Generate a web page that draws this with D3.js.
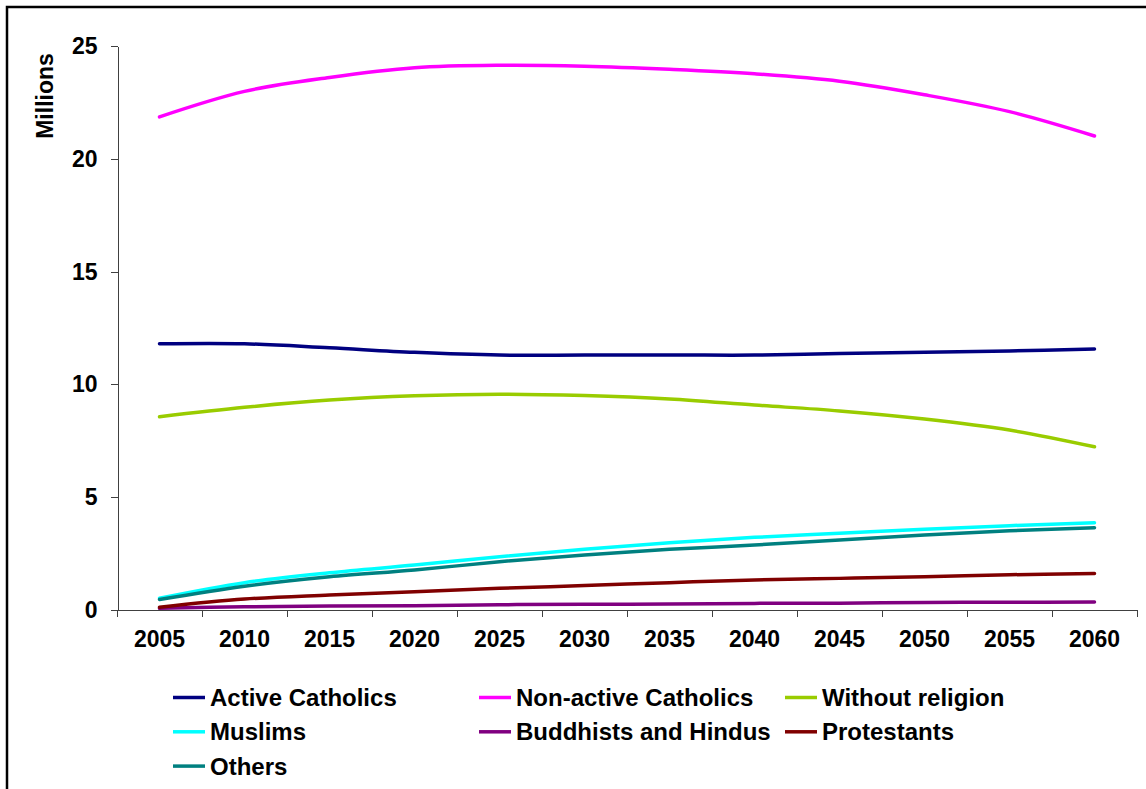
<!DOCTYPE html>
<html>
<head>
<meta charset="utf-8">
<script src="https://cdn.jsdelivr.net/npm/d3@7"></script>
<style>
  body { margin: 0; background: #fff; }
  text { font-family: "Liberation Sans", Arial, sans-serif; font-weight: bold; fill: #000; }
</style>
</head>
<body>
<div id="chart"></div>
<script>
// values in millions
const years = ["2005", "2010", "2015", "2020", "2025", "2030", "2035", "2040", "2045", "2050", "2055", "2060"];
const activeCatholics    = [11.80, 11.80, 11.62, 11.42, 11.30, 11.30, 11.30, 11.30, 11.37, 11.42, 11.48, 11.57];
const nonActiveCatholics = [21.87, 23.00, 23.62, 24.05, 24.16, 24.12, 23.98, 23.78, 23.45, 22.85, 22.10, 21.02];
const withoutReligion    = [8.56, 8.98, 9.30, 9.49, 9.56, 9.50, 9.35, 9.08, 8.82, 8.46, 7.97, 7.23];
const muslims            = [0.51, 1.20, 1.64, 1.98, 2.35, 2.68, 2.97, 3.21, 3.39, 3.57, 3.73, 3.86];
const buddhistsHindus    = [0.06, 0.13, 0.16, 0.18, 0.22, 0.24, 0.25, 0.28, 0.29, 0.32, 0.33, 0.34];
const protestants        = [0.11, 0.47, 0.65, 0.80, 0.95, 1.07, 1.20, 1.32, 1.39, 1.46, 1.55, 1.61];
const others             = [0.45, 1.04, 1.46, 1.76, 2.13, 2.43, 2.68, 2.87, 3.09, 3.31, 3.50, 3.64];
const yTicks = [0, 5, 10, 15, 20, 25];

const series = [
  {name: "Active Catholics", values: activeCatholics, color: "#000080"},
  {name: "Non-active Catholics", values: nonActiveCatholics, color: "#FF00FF"},
  {name: "Without religion", values: withoutReligion, color: "#99CC00"},
  {name: "Muslims", values: muslims, color: "#00FFFF"},
  {name: "Buddhists and Hindus", values: buddhistsHindus, color: "#800080"},
  {name: "Protestants", values: protestants, color: "#800000"},
  {name: "Others", values: others, color: "#008080"}
];

const width = 1146, height = 789;
const plot = {left: 117, right: 1137, top: 46.3, bottom: 609.7};

const svg = d3.select("#chart").append("svg")
  .attr("width", width)
  .attr("height", height);

// outer frame (only top and left edges are inside the picture)
svg.append("rect")
  .attr("x", 7).attr("y", 7)
  .attr("width", width + 20).attr("height", height + 20)
  .attr("fill", "none")
  .attr("stroke", "#000")
  .attr("stroke-width", 2.5);

const x = d3.scaleBand().domain(years).range([plot.left, plot.right]);
const y = d3.scaleLinear().domain([0, 25]).range([plot.bottom, plot.top]);

// y axis
const yAxis = svg.append("g")
  .attr("transform", "translate(" + (plot.left + 0.5) + ",0)")
  .call(d3.axisLeft(y).tickValues(yTicks).tickSize(7).tickPadding(13).tickSizeOuter(0));
yAxis.selectAll("text").style("font-size", "23px");

// x axis: labels at category centres, ticks on the category boundaries
const xAxis = svg.append("g")
  .attr("transform", "translate(0," + (plot.bottom + 0.5) + ")")
  .call(d3.axisBottom(x).tickSize(0).tickPadding(20).tickSizeOuter(0));
xAxis.selectAll("text").style("font-size", "23px");

const bounds = years.map(d => x(d)).concat([plot.right]);
xAxis.selectAll(".bound")
  .data(bounds)
  .enter()
  .append("line")
  .attr("class", "bound")
  .attr("x1", d => Math.round(d) + 0.5)
  .attr("x2", d => Math.round(d) + 0.5)
  .attr("y1", 0)
  .attr("y2", 7);

svg.selectAll(".domain, .tick line, .bound")
  .attr("stroke", "#404040")
  .attr("stroke-width", 1)
  .attr("shape-rendering", "crispEdges");

// y title
svg.append("text")
  .attr("transform", "translate(53,96) rotate(-90)")
  .attr("text-anchor", "middle")
  .style("font-size", "23px")
  .text("Millions");

// lines
const line = d3.line()
  .x((d, i) => x(years[i]) + x.bandwidth() / 2)
  .y(d => y(d))
  .curve(d3.curveCardinal.tension(0));

svg.selectAll(".series")
  .data(series)
  .enter()
  .append("path")
  .attr("class", "series")
  .attr("d", d => line(d.values))
  .attr("fill", "none")
  .attr("stroke", d => d.color)
  .attr("stroke-width", 3.5)
  .attr("stroke-linecap", "round");

// legend, 3 columns
const legend = svg.selectAll(".legend")
  .data(series)
  .enter()
  .append("g")
  .attr("class", "legend")
  .attr("transform", (d, i) => "translate(" + (173 + (i % 3) * 306) + "," + (697.5 + Math.floor(i / 3) * 34.3) + ")");

legend.append("line")
  .attr("x1", 0).attr("x2", 32)
  .attr("y1", 0).attr("y2", 0)
  .attr("stroke", d => d.color)
  .attr("stroke-width", 3.5);

legend.append("text")
  .attr("x", 37)
  .attr("dy", "0.36em")
  .style("font-size", "24px")
  .text(d => d.name);
</script>
</body>
</html>
